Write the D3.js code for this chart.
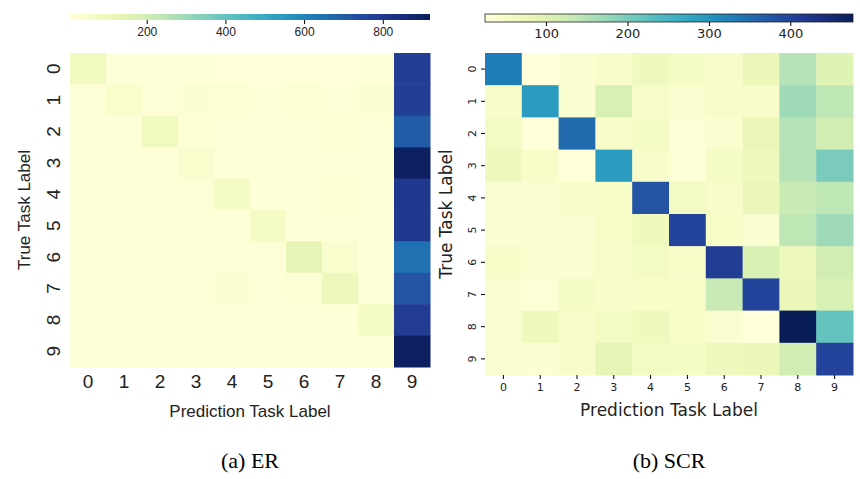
<!DOCTYPE html>
<html><head><meta charset="utf-8">
<script src="https://cdn.jsdelivr.net/npm/d3@7"></script>
<style>body{margin:0;background:#fff}</style>
</head><body>
<svg id="c" width="860" height="479"></svg>
<script>
const labels = [0,1,2,3,4,5,6,7,8,9];
const erMatrix = [
  [90,12,10,10,8,8,8,8,10,780],
  [15,45,15,25,18,10,20,12,25,780],
  [12,10,90,18,15,12,15,20,15,700],
  [10,10,10,40,12,10,10,10,10,900],
  [10,10,10,15,70,10,10,18,15,800],
  [12,10,10,10,12,70,10,12,12,800],
  [15,15,10,10,15,15,130,40,12,650],
  [10,12,10,12,25,12,20,100,15,720],
  [10,15,10,10,10,10,10,10,70,790],
  [10,10,10,10,10,10,10,10,10,900]
];
const scrMatrix = [
  [330,25,35,45,70,55,45,80,150,100],
  [45,290,40,110,45,40,45,45,170,140],
  [60,25,350,45,55,30,40,80,150,120],
  [70,50,25,290,45,30,55,70,150,200],
  [40,40,45,50,380,60,45,80,130,140],
  [35,40,40,50,70,400,50,40,140,170],
  [50,40,40,45,60,50,410,110,75,120],
  [40,30,55,45,50,50,130,400,80,110],
  [40,70,45,60,70,50,40,25,477,220],
  [40,35,45,90,60,55,70,80,120,400]
];
const erTicks = [200,400,600,800];
const scrTicks = [100,200,300,400];

const svg = d3.select("#c");
const defs = svg.append("defs");

function heatmap(o){
  const x = d3.scaleBand().domain(labels).range([o.x0,o.x1]);
  const y = d3.scaleBand().domain(labels).range([o.y0,o.y1]);
  const color = d3.scaleSequential(d3.interpolateYlGnBu).domain(o.domain);
  const g = svg.append("g");
  o.data.forEach((row,i) => row.forEach((v,j) => {
    g.append("rect").attr("x",x(j)).attr("y",y(i))
      .attr("width",x.bandwidth()+0.5).attr("height",y.bandwidth()+0.5)
      .attr("fill",color(v));
  }));
  // colorbar
  const gid = "grad"+o.id;
  const grad = defs.append("linearGradient").attr("id",gid);
  d3.range(0,1.001,0.05).forEach(t => grad.append("stop")
    .attr("offset",t).attr("stop-color",d3.interpolateYlGnBu(t)));
  g.append("rect").attr("x",o.x0).attr("y",o.cbY).attr("width",o.x1-o.x0)
    .attr("height",o.cbH).attr("fill",`url(#${gid})`)
    .attr("stroke",o.cbStroke ? "#222" : "none").attr("stroke-width",0.8);
  const cs = d3.scaleLinear().domain(o.domain).range([o.x0,o.x1]);
  g.append("g").attr("transform",`translate(0,${o.cbY+o.cbH})`)
    .call(d3.axisBottom(cs).tickValues(o.ticks).tickSize(4).tickPadding(3))
    .call(a => a.select(".domain").remove())
    .call(a => a.selectAll("text").attr("font-family",o.font).attr("font-size",o.cbFs).attr("fill","#222"));
  // axes
  const xa = g.append("g").attr("transform",`translate(0,${o.y1})`)
    .call(d3.axisBottom(x).tickSize(o.tick).tickPadding(o.pad));
  xa.select(".domain").remove();
  xa.selectAll("text").attr("font-family",o.font).attr("font-size",o.fs).attr("fill","#222");
  const ya = g.append("g").attr("transform",`translate(${o.x0},0)`)
    .call(d3.axisLeft(y).tickSize(o.tick).tickPadding(o.pad));
  ya.select(".domain").remove();
  ya.selectAll("text").attr("font-family",o.font).attr("font-size",o.fs).attr("fill","#222")
    .attr("text-anchor","middle").attr("dy",null)
    .attr("transform",function(){const xx=+d3.select(this).attr("x");return `translate(${xx-o.fs*0.35},0) rotate(-90)`;})
    .attr("x",0).attr("y",0).attr("dominant-baseline","middle");
  g.append("text").attr("x",(o.x0+o.x1)/2).attr("y",o.xlY).attr("text-anchor","middle")
    .attr("font-family",o.font).attr("font-size",o.lfs).attr("fill","#222").text("Prediction Task Label");
  g.append("text").attr("transform",`translate(${o.ylX},${(o.y0+o.y1)/2}) rotate(-90)`)
    .attr("text-anchor","middle").attr("font-family",o.font).attr("font-size",o.lfs).attr("fill","#222").text("True Task Label");
  g.append("text").attr("x",(o.x0+o.x1)/2).attr("y",468).attr("text-anchor","middle")
    .attr("font-family","Liberation Serif").attr("font-size",22).attr("fill","#000").text(o.caption);
}

heatmap({id:"a",data:erMatrix,domain:[5,920],ticks:erTicks,x0:70,x1:430,y0:53,y1:367,
  cbY:14,cbH:6,cbStroke:false,font:"Liberation Sans",fs:19,cbFs:12,tick:0,pad:8,
  lfs:17,xlY:417,ylX:30,caption:"(a)  ER"});
heatmap({id:"b",data:scrMatrix,domain:[25,477],ticks:scrTicks,x0:485,x1:853,y0:53,y1:375,
  cbY:14,cbH:8,cbStroke:true,font:"DejaVu Sans",fs:11,cbFs:13,tick:4,pad:4,
  lfs:17,xlY:416,ylX:452,caption:"(b)  SCR"});
</script>
</body></html>
